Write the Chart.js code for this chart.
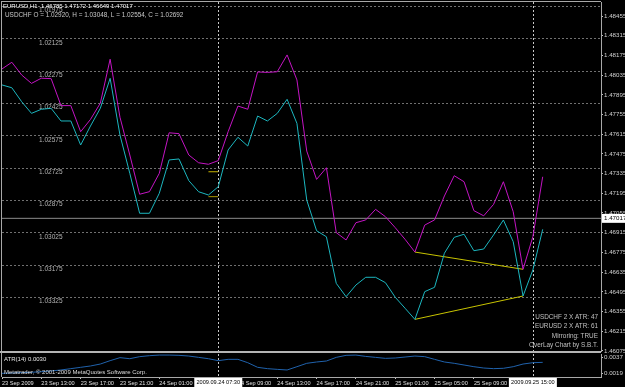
<!DOCTYPE html>
<html>
<head>
<meta charset="utf-8">
<title>EURUSD,H1 - USDCHF overlay</title>
<script src="https://cdn.jsdelivr.net/npm/chart.js@4.4.1/dist/chart.umd.min.js"></script>
<style>
    html, body { margin: 0; padding: 0; background: #000; }
    #wrap { position: relative; width: 625px; height: 387px; overflow: hidden; background: #000; }
    #mainChart { position: absolute; left: 0; top: 0; }
    #atrChart { position: absolute; left: 0; top: 352px; }
</style>
</head>
<body>
<div id="wrap">
    <canvas id="mainChart" width="625" height="356"></canvas>
    <canvas id="atrChart" width="625" height="35"></canvas>
</div>
<script>
// hourly bars, first one is 23 Sep 2009 09:00
const eurusd = [
    1.47965, 1.47945, 1.47846, 1.47763, 1.47792, 1.47799, 1.47709, 1.47709, 1.47538, 1.47673,
    1.47799, 1.48012, 1.47609, 1.47337, 1.47053, 1.47053, 1.47195, 1.47432, 1.47439, 1.47285,
    1.47206, 1.47183, 1.47242, 1.47503, 1.47593, 1.47531, 1.47744, 1.47709, 1.47763, 1.47863,
    1.47692, 1.47147, 1.46929, 1.46886, 1.46555, 1.46460, 1.46543, 1.46598, 1.46598, 1.46560,
    1.46456, 1.46378, 1.46299, 1.46496, 1.46527, 1.46769, 1.46882, 1.46904, 1.46787, 1.46799,
    1.46899, 1.47005, 1.46851, 1.46465, 1.46650, 1.46939
];
// USDCHF, drawn mirrored (reversed axis)
const usdchf = [
    1.02265, 1.02234, 1.02293, 1.02332, 1.02308, 1.02310, 1.02435, 1.02435, 1.02556, 1.02499,
    1.02424, 1.02220, 1.02489, 1.02664, 1.02846, 1.02834, 1.02749, 1.02561, 1.02565, 1.02664,
    1.02700, 1.02707, 1.02690, 1.02556, 1.02437, 1.02452, 1.02279, 1.02281, 1.02278, 1.02200,
    1.02316, 1.02646, 1.02777, 1.02723, 1.03024, 1.03058, 1.02978, 1.02965, 1.02916, 1.02950,
    1.03001, 1.03055, 1.03114, 1.02989, 1.02965, 1.02854, 1.02760, 1.02788, 1.02922, 1.02946,
    1.02893, 1.02788, 1.02927, 1.03194, 1.03043, 1.02765
];
const atr14 = [
    0.00186, 0.00190, 0.00194, 0.00198, 0.00205, 0.00213, 0.00224, 0.00239, 0.00254, 0.00269,
    0.00291, 0.00329, 0.00363, 0.00351, 0.00374, 0.00385, 0.00392, 0.00392, 0.00389, 0.00381,
    0.00366, 0.00351, 0.00329, 0.00344, 0.00344, 0.00306, 0.00254, 0.00239, 0.00231, 0.00224,
    0.00261, 0.00299, 0.00314, 0.00325, 0.00366, 0.00389, 0.00392, 0.00377, 0.00366, 0.00355,
    0.00359, 0.00370, 0.00381, 0.00374, 0.00344, 0.00314, 0.00299, 0.00280, 0.00261, 0.00246,
    0.00239, 0.00243, 0.00261, 0.00291, 0.00306, 0.00310
];

const eurusdTicks = [1.48455, 1.48315, 1.48175, 1.48035, 1.47895, 1.47755, 1.47615, 1.47475, 1.47335,
    1.47195, 1.47055, 1.46915, 1.46775, 1.46635, 1.46495, 1.46355, 1.46215, 1.46075];
const usdchfTicks = [1.01975, 1.02125, 1.02275, 1.02425, 1.02575, 1.02725, 1.02875, 1.03025, 1.03175, 1.03325];
const atrTicks = [0.0037, 0.0019];

const timeTickBars = [0, 4, 8, 12, 16, 20, 24, 28, 32, 36, 40, 44, 48, 52];
const timeTickLabels = ['23 Sep 2009', '23 Sep 13:00', '23 Sep 17:00', '23 Sep 21:00', '24 Sep 01:00',
    '24 Sep 05:00', '24 Sep 09:00', '24 Sep 13:00', '24 Sep 17:00', '24 Sep 21:00', '25 Sep 01:00',
    '25 Sep 05:00', '25 Sep 09:00', '25 Sep 13:00'];

const cursorBars = [22, 54];
const cursorLabels = ['2009.09.24 07:30', '2009.09.25 15:00'];

const trendBars = [42, 53];
const bid = 1.47017;
const markBars = [21, 22];
const markValues = [1.47348, 1.47171];

const headerLines = ['EURUSD,H1  1.46785 1.47172 1.46649 1.47017',
    'USDCHF O = 1.02920, H = 1.03048, L = 1.02554, C = 1.02692'];
const infoLines = ['USDCHF 2 X ATR: 47', 'EURUSD 2 X ATR: 61', 'Mirroring: TRUE', 'OverLay Chart by S.B.T.'];
const atrTitle = 'ATR(14) 0.0030';
const copyright = 'Metatrader, \u00A9 2001-2009 MetaQuotes Software Corp.';

const X_MAX = 60.93;
const FONT = "'Liberation Sans', Arial, sans-serif";
const MAGENTA = '#c414c4';
const CYAN = '#1cb6bf';
const YELLOW = '#c8c400';
const FRAME = '#a8a8a8';

Chart.defaults.font.family = FONT;

const toPoints = arr => arr.map((v, i) => ({ x: i, y: v }));
const lineSet = (data, color, axis, extra) => Object.assign({
    data, borderColor: color, borderWidth: 1, pointRadius: 0, tension: 0, yAxisID: axis
}, extra || {});

// keep the layout from reserving room for half labels
function noPadding(scale) {
    scale.paddingTop = 0;
    scale.paddingBottom = 0;
    scale.paddingLeft = 0;
    scale.paddingRight = 0;
}

// dotted vertical cursor lines, shared by both panels
const cursorLines = {
    id: 'cursorLines',
    beforeDatasetsDraw(chart) {
        const { ctx, chartArea, scales: { x } } = chart;
        ctx.save();
        ctx.strokeStyle = '#c8c8c8';
        ctx.lineWidth = 1;
        ctx.setLineDash([2, 2]);
        cursorBars.forEach(b => {
            const px = Math.round(x.getPixelForValue(b)) + 0.5;
            ctx.beginPath();
            ctx.moveTo(px, chartArea.top);
            ctx.lineTo(px, chartArea.bottom);
            ctx.stroke();
        });
        ctx.restore();
    }
};

// 1. Main panel
const mainDecor = {
    id: 'mainDecor',
    afterDraw(chart) {
        const { ctx, chartArea, scales: { y } } = chart;
        ctx.save();
        ctx.fillStyle = FRAME;
        ctx.fillRect(1, 1, chartArea.right - 1, 1);
        ctx.fillRect(1, 1, 1, chartArea.bottom);
        ctx.fillStyle = '#b4b4b4';
        ctx.fillRect(0, chartArea.bottom, chartArea.right, 1);

        // bid price box
        const by = y.getPixelForValue(bid);
        ctx.fillStyle = '#ffffff';
        ctx.fillRect(chartArea.right + 1, by - 4.5, 24, 9);
        ctx.fillStyle = '#000000';
        ctx.font = `6.2px ${FONT}`;
        ctx.textBaseline = 'middle';
        ctx.textAlign = 'left';
        ctx.fillText(bid.toFixed(5), chartArea.right + 3, by);

        // header
        ctx.fillStyle = '#ffffff';
        ctx.font = `6px ${FONT}`;
        ctx.fillText(headerLines[0], 3, 6);
        ctx.fillStyle = '#c8c8c8';
        ctx.font = `6.4px ${FONT}`;
        ctx.fillText(headerLines[1], 5, 15.5);

        // overlay info, bottom right
        ctx.textAlign = 'right';
        ctx.fillStyle = '#c0c0c0';
        [317, 326.5, 336, 345.5].forEach((ty, i) => ctx.fillText(infoLines[i], 598, ty));
        ctx.restore();
    }
};

new Chart(document.getElementById('mainChart'), {
    type: 'line',
    data: {
        datasets: [
            lineSet(toPoints(usdchf), MAGENTA, 'yChf'),
            lineSet(toPoints(eurusd), CYAN, 'y'),
            lineSet(trendBars.map(i => ({ x: i, y: usdchf[i] })), YELLOW, 'yChf'),
            lineSet(trendBars.map(i => ({ x: i, y: eurusd[i] })), YELLOW, 'y'),
            lineSet(markBars.map(i => ({ x: i, y: markValues[0] })), '#c8b400', 'y'),
            lineSet(markBars.map(i => ({ x: i, y: markValues[1] })), '#a89600', 'y'),
            lineSet([{ x: 0, y: bid }, { x: X_MAX, y: bid }], '#8c8c8c', 'y')
        ]
    },
    options: {
        responsive: false,
        animation: false,
        events: [],
        layout: { padding: { left: 2, top: 2, right: 0, bottom: 5 } },
        plugins: { legend: { display: false }, tooltip: { enabled: false } },
        scales: {
            x: { type: 'linear', display: false, min: 0, max: X_MAX },
            y: {
                position: 'right',
                min: 1.460742,
                max: 1.485545,
                afterBuildTicks: s => { s.ticks = eurusdTicks.map(v => ({ value: v })); },
                afterFit: s => { s.width = 24; noPadding(s); },
                ticks: {
                    autoSkip: false,
                    padding: 1,
                    color: '#d0d0d0',
                    font: { size: 6.2 },
                    callback: v => v.toFixed(5)
                },
                grid: { drawOnChartArea: false, drawTicks: true, tickLength: 2, color: '#c0c0c0' },
                border: { display: true, color: FRAME }
            },
            yChf: {
                position: 'left',
                reverse: true,
                min: 1.019546,
                max: 1.035728,
                afterBuildTicks: s => { s.ticks = usdchfTicks.map(v => ({ value: v })); },
                afterFit: s => { s.width = 0; noPadding(s); },
                ticks: {
                    autoSkip: false,
                    mirror: true,
                    padding: 37,
                    labelOffset: 4,
                    color: '#b4b4b4',
                    font: { size: 6.5 },
                    callback: v => v.toFixed(5)
                },
                grid: { color: '#707070', lineWidth: 1, drawTicks: false },
                border: { display: false, dash: [2, 2] }
            }
        }
    },
    plugins: [cursorLines, mainDecor]
});

// 2. ATR panel with the time axis
const atrDecor = {
    id: 'atrDecor',
    afterDraw(chart) {
        const { ctx, chartArea, scales: { x } } = chart;
        ctx.save();
        ctx.fillStyle = '#b4b4b4';
        ctx.fillRect(0, 0, chartArea.right, 1);
        ctx.fillStyle = FRAME;
        ctx.fillRect(1, 0, 1, chartArea.bottom);

        ctx.textBaseline = 'middle';
        ctx.font = `6px ${FONT}`;
        ctx.textAlign = 'left';
        ctx.fillStyle = '#e6e6e6';
        ctx.fillText(atrTitle, 4, 7.5);
        ctx.fillStyle = '#dcdcdc';
        ctx.fillText(copyright, 4, 20.5);

        // cursor time boxes
        ctx.font = `5.6px ${FONT}`;
        ctx.textAlign = 'center';
        cursorBars.forEach((b, i) => {
            const px = x.getPixelForValue(b);
            ctx.fillStyle = '#ffffff';
            ctx.fillRect(px - 24, chartArea.bottom + 1, 48, 9);
            ctx.fillStyle = '#000000';
            ctx.fillText(cursorLabels[i], px, chartArea.bottom + 5.5);
        });
        ctx.restore();
    }
};

new Chart(document.getElementById('atrChart'), {
    type: 'line',
    data: {
        datasets: [lineSet(toPoints(atr14), '#2062ac', 'y')]
    },
    options: {
        responsive: false,
        animation: false,
        events: [],
        layout: { padding: { left: 2, top: 2, right: 0, bottom: 0 } },
        plugins: { legend: { display: false }, tooltip: { enabled: false } },
        scales: {
            x: {
                type: 'linear',
                min: 0,
                max: X_MAX,
                afterBuildTicks: s => { s.ticks = timeTickBars.map(v => ({ value: v })); },
                afterFit: s => { s.height = 10; noPadding(s); },
                ticks: {
                    autoSkip: false,
                    maxRotation: 0,
                    minRotation: 0,
                    align: 'start',
                    padding: 1,
                    color: '#e0e0e0',
                    font: { size: 5.6 },
                    callback: v => timeTickLabels[timeTickBars.indexOf(v)]
                },
                grid: { drawOnChartArea: false, drawTicks: true, tickLength: 2, color: '#c0c0c0' },
                border: { display: true, color: FRAME }
            },
            y: {
                position: 'right',
                min: 0.00145,
                max: 0.00404,
                afterBuildTicks: s => { s.ticks = atrTicks.map(v => ({ value: v })); },
                afterFit: s => { s.width = 24; noPadding(s); },
                ticks: {
                    autoSkip: false,
                    padding: 1,
                    color: '#d0d0d0',
                    font: { size: 6.2 },
                    callback: v => v.toFixed(4)
                },
                grid: { drawOnChartArea: false, drawTicks: true, tickLength: 2, color: '#c0c0c0' },
                border: { display: true, color: FRAME }
            }
        }
    },
    plugins: [cursorLines, atrDecor]
});
</script>
</body>
</html>
